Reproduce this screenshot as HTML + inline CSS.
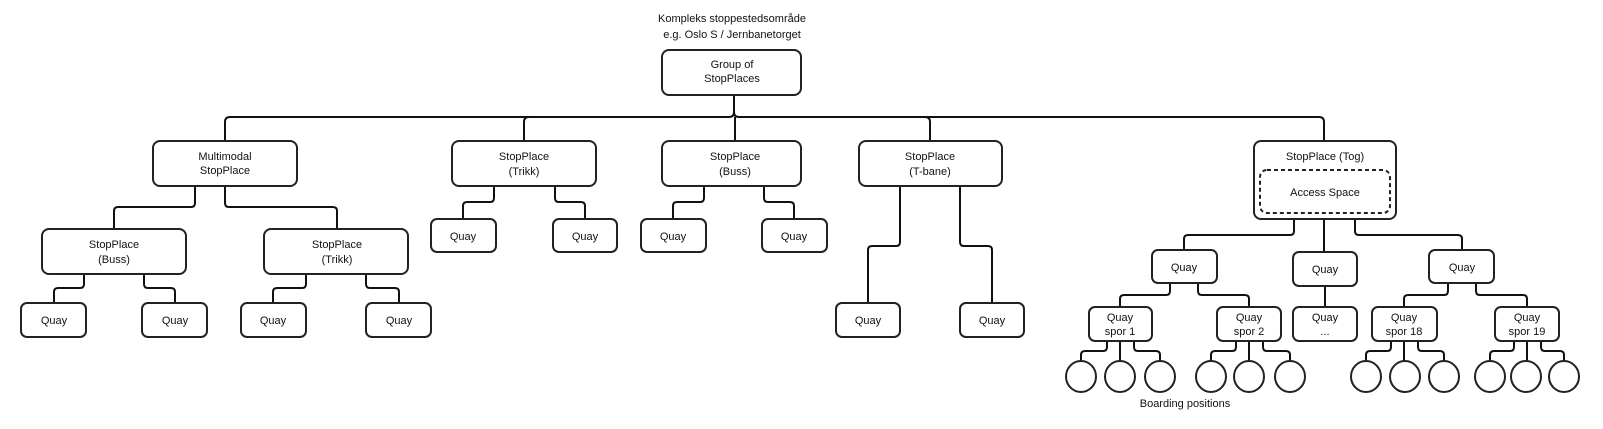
<!DOCTYPE html>
<html><head><meta charset="utf-8"><style>
html,body{margin:0;padding:0;background:#fff;}
svg{display:block;}
text{font-family:"Liberation Sans",sans-serif;font-size:11px;fill:#111;text-anchor:middle;}
.b{fill:#fff;stroke:#222;stroke-width:2;}
.c{fill:none;stroke:#111;stroke-width:2;}
</style></head><body>
<svg width="1603" height="429" viewBox="0 0 1603 429" xmlns="http://www.w3.org/2000/svg">
<text x="732" y="22">Kompleks stoppestedsområde</text>
<text x="732" y="38">e.g. Oslo S / Jernbanetorget</text>
<g class="c">
<path d="M734 95V112Q734 117 729 117H230Q225 117 225 122V141"/>
<path d="M734 95V112Q734 117 739 117H1319Q1324 117 1324 122V141"/>
<path d="M529 117Q524 117 524 122V141"/>
<path d="M925 117Q930 117 930 122V141"/>
<path d="M735 117V141"/>
<path d="M195 186V203Q195 207 191 207H118Q114 207 114 211V229"/>
<path d="M225 186V203Q225 207 229 207H333Q337 207 337 211V229"/>
<path d="M84 274V284Q84 288 80 288H58Q54 288 54 292V303"/>
<path d="M144 274V284Q144 288 148 288H171Q175 288 175 292V303"/>
<path d="M306 274V284Q306 288 302 288H277Q273 288 273 292V303"/>
<path d="M366 274V284Q366 288 370 288H395Q399 288 399 292V303"/>
<path d="M494 186V198Q494 202 490 202H467Q463 202 463 206V219"/>
<path d="M555 186V198Q555 202 559 202H581Q585 202 585 206V219"/>
<path d="M704 186V198Q704 202 700 202H677Q673 202 673 206V219"/>
<path d="M764 186V198Q764 202 768 202H790Q794 202 794 206V219"/>
<path d="M900 186V242Q900 246 896 246H872Q868 246 868 250V303"/>
<path d="M960 186V242Q960 246 964 246H988Q992 246 992 250V303"/>
<path d="M1294 219V231Q1294 235 1290 235H1188Q1184 235 1184 239V250"/>
<path d="M1324 219V252"/>
<path d="M1355 219V231Q1355 235 1359 235H1458Q1462 235 1462 239V250"/>
<path d="M1170 283V291Q1170 295 1166 295H1124Q1120 295 1120 299V307"/>
<path d="M1198 283V291Q1198 295 1202 295H1245Q1249 295 1249 299V307"/>
<path d="M1325 286V307"/>
<path d="M1448 283V291Q1448 295 1444 295H1408Q1404 295 1404 299V307"/>
<path d="M1476 283V291Q1476 295 1480 295H1523Q1527 295 1527 299V307"/>
<path d="M1107 341V347Q1107 351 1103 351H1085Q1081 351 1081 355V361"/>
<path d="M1120 341V361"/>
<path d="M1134 341V347Q1134 351 1138 351H1156Q1160 351 1160 355V361"/>
<path d="M1236 341V347Q1236 351 1232 351H1215Q1211 351 1211 355V361"/>
<path d="M1249 341V361"/>
<path d="M1263 341V347Q1263 351 1267 351H1286Q1290 351 1290 355V361"/>
<path d="M1391 341V347Q1391 351 1387 351H1370Q1366 351 1366 355V361"/>
<path d="M1404 341V361"/>
<path d="M1418 341V347Q1418 351 1422 351H1440Q1444 351 1444 355V361"/>
<path d="M1514 341V347Q1514 351 1510 351H1494Q1490 351 1490 355V361"/>
<path d="M1527 341V361"/>
<path d="M1541 341V347Q1541 351 1545 351H1560Q1564 351 1564 355V361"/>
</g>
<!-- boxes -->
<rect class="b" x="662" y="50" width="139" height="45" rx="7"/><text x="732" y="68">Group of</text><text x="732" y="82">StopPlaces</text>
<rect class="b" x="153" y="141" width="144" height="45" rx="7"/><text x="225" y="160">Multimodal</text><text x="225" y="174">StopPlace</text>
<rect class="b" x="452" y="141" width="144" height="45" rx="7"/><text x="524" y="160">StopPlace</text><text x="524" y="175">(Trikk)</text>
<rect class="b" x="662" y="141" width="139" height="45" rx="7"/><text x="735" y="160">StopPlace</text><text x="735" y="175">(Buss)</text>
<rect class="b" x="859" y="141" width="143" height="45" rx="7"/><text x="930" y="160">StopPlace</text><text x="930" y="175">(T-bane)</text>
<rect class="b" x="1254" y="141" width="142" height="78" rx="7"/><text x="1325" y="160">StopPlace (Tog)</text>
<rect x="1260" y="170" width="130" height="43" rx="7" fill="none" stroke="#222" stroke-width="2" stroke-dasharray="4,3"/><text x="1325" y="196">Access Space</text>
<rect class="b" x="42" y="229" width="144" height="45" rx="7"/><text x="114" y="248">StopPlace</text><text x="114" y="263">(Buss)</text>
<rect class="b" x="264" y="229" width="144" height="45" rx="7"/><text x="337" y="248">StopPlace</text><text x="337" y="263">(Trikk)</text>
<rect class="b" x="431" y="219" width="65" height="33" rx="6"/><text x="463" y="240">Quay</text>
<rect class="b" x="553" y="219" width="64" height="33" rx="6"/><text x="585" y="240">Quay</text>
<rect class="b" x="641" y="219" width="65" height="33" rx="6"/><text x="673" y="240">Quay</text>
<rect class="b" x="762" y="219" width="65" height="33" rx="6"/><text x="794" y="240">Quay</text>
<rect class="b" x="21" y="303" width="65" height="34" rx="6"/><text x="54" y="324">Quay</text>
<rect class="b" x="142" y="303" width="65" height="34" rx="6"/><text x="175" y="324">Quay</text>
<rect class="b" x="241" y="303" width="65" height="34" rx="6"/><text x="273" y="324">Quay</text>
<rect class="b" x="366" y="303" width="65" height="34" rx="6"/><text x="399" y="324">Quay</text>
<rect class="b" x="836" y="303" width="64" height="34" rx="6"/><text x="868" y="324">Quay</text>
<rect class="b" x="960" y="303" width="64" height="34" rx="6"/><text x="992" y="324">Quay</text>
<rect class="b" x="1152" y="250" width="65" height="33" rx="6"/><text x="1184" y="271">Quay</text>
<rect class="b" x="1293" y="252" width="64" height="34" rx="6"/><text x="1325" y="273">Quay</text>
<rect class="b" x="1429" y="250" width="65" height="33" rx="6"/><text x="1462" y="271">Quay</text>
<rect class="b" x="1089" y="307" width="63" height="34" rx="6"/><text x="1120" y="321">Quay</text><text x="1120" y="335">spor 1</text>
<rect class="b" x="1217" y="307" width="64" height="34" rx="6"/><text x="1249" y="321">Quay</text><text x="1249" y="335">spor 2</text>
<rect class="b" x="1293" y="307" width="64" height="34" rx="6"/><text x="1325" y="321">Quay</text><text x="1325" y="335">...</text>
<rect class="b" x="1372" y="307" width="65" height="34" rx="6"/><text x="1404" y="321">Quay</text><text x="1404" y="335">spor 18</text>
<rect class="b" x="1495" y="307" width="64" height="34" rx="6"/><text x="1527" y="321">Quay</text><text x="1527" y="335">spor 19</text>
<g class="b">
<ellipse cx="1081" cy="376.5" rx="15" ry="15.5"/><ellipse cx="1120" cy="376.5" rx="15" ry="15.5"/><ellipse cx="1160" cy="376.5" rx="15" ry="15.5"/>
<ellipse cx="1211" cy="376.5" rx="15" ry="15.5"/><ellipse cx="1249" cy="376.5" rx="15" ry="15.5"/><ellipse cx="1290" cy="376.5" rx="15" ry="15.5"/>
<ellipse cx="1366" cy="376.5" rx="15" ry="15.5"/><ellipse cx="1405" cy="376.5" rx="15" ry="15.5"/><ellipse cx="1444" cy="376.5" rx="15" ry="15.5"/>
<ellipse cx="1490" cy="376.5" rx="15" ry="15.5"/><ellipse cx="1526" cy="376.5" rx="15" ry="15.5"/><ellipse cx="1564" cy="376.5" rx="15" ry="15.5"/>
</g>
<text x="1185" y="407">Boarding positions</text>
</svg>
</body></html>
